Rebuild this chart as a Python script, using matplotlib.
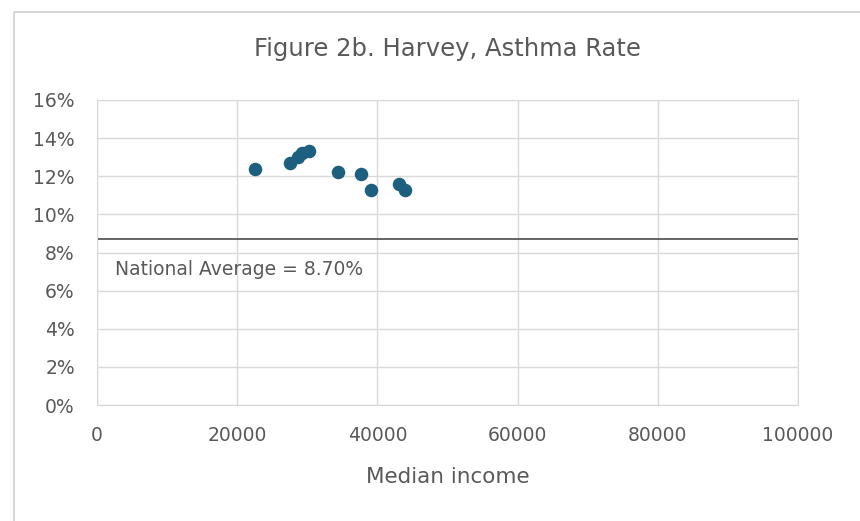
import matplotlib
matplotlib.use('Agg')
import matplotlib.pyplot as plt
from matplotlib.ticker import FuncFormatter
from matplotlib.lines import Line2D

# median household income vs. asthma rate (%)
income = [22500, 27500, 28700, 29300, 30200, 34400, 37600, 39100, 43100, 44000]
asthma = [12.4, 12.7, 13.0, 13.2, 13.3, 12.2, 12.1, 11.3, 11.6, 11.3]
national_avg = 8.70

xticks = [0, 20000, 40000, 60000, 80000, 100000]
yticks = [0, 2, 4, 6, 8, 10, 12, 14, 16]

txt = '#595959'
grid = '#d9d9d9'

plt.rcParams['font.family'] = ['DejaVu Sans']

fig = plt.figure(figsize=(8.6, 5.21), dpi=100)
ax = fig.add_axes([0.1128, 0.2226, 0.8151, 0.5855])

# chart area outline (left and top edges only)
x0, y0 = 13.5 / 860, 1 - 11.5 / 521
fig.lines.append(Line2D([x0, x0, 1.0], [0.0, y0, y0], transform=fig.transFigure,
                        color='#d0d0d0', linewidth=1.2))

ax.set_xlim(0, 100000)
ax.set_ylim(0, 16)
ax.set_xticks(xticks)
ax.set_yticks(yticks)
ax.xaxis.set_major_formatter(FuncFormatter(lambda v, p: '%d' % v))
ax.yaxis.set_major_formatter(FuncFormatter(lambda v, p: '%d%%' % v))
ax.grid(True, color=grid, linewidth=1.0)
ax.set_axisbelow(True)
for s in ax.spines.values():
    s.set_color(grid)
ax.tick_params(length=0, colors=txt, labelsize=13.5)
ax.tick_params(axis='x', pad=15)
ax.tick_params(axis='y', pad=16)

ax.axhline(national_avg, color='#4a4a4a', linewidth=1.2, zorder=2)
ax.plot([0, 0], [national_avg - 0.35, national_avg + 0.35], color='#4a4a4a', linewidth=1.2)
ax.text(2600, national_avg - 1.6, 'National Average = %.2f%%' % national_avg,
        color=txt, fontsize=13.5, va='center', ha='left')

ax.scatter(income, asthma, s=95, color='#1d5f7e', zorder=3, linewidths=0)

ax.set_title('Figure 2b. Harvey, Asthma Rate', color=txt, fontsize=17.5, pad=32)
ax.set_xlabel('Median income', color=txt, fontsize=15.5, labelpad=16)

fig.savefig('out.png', dpi=100)
